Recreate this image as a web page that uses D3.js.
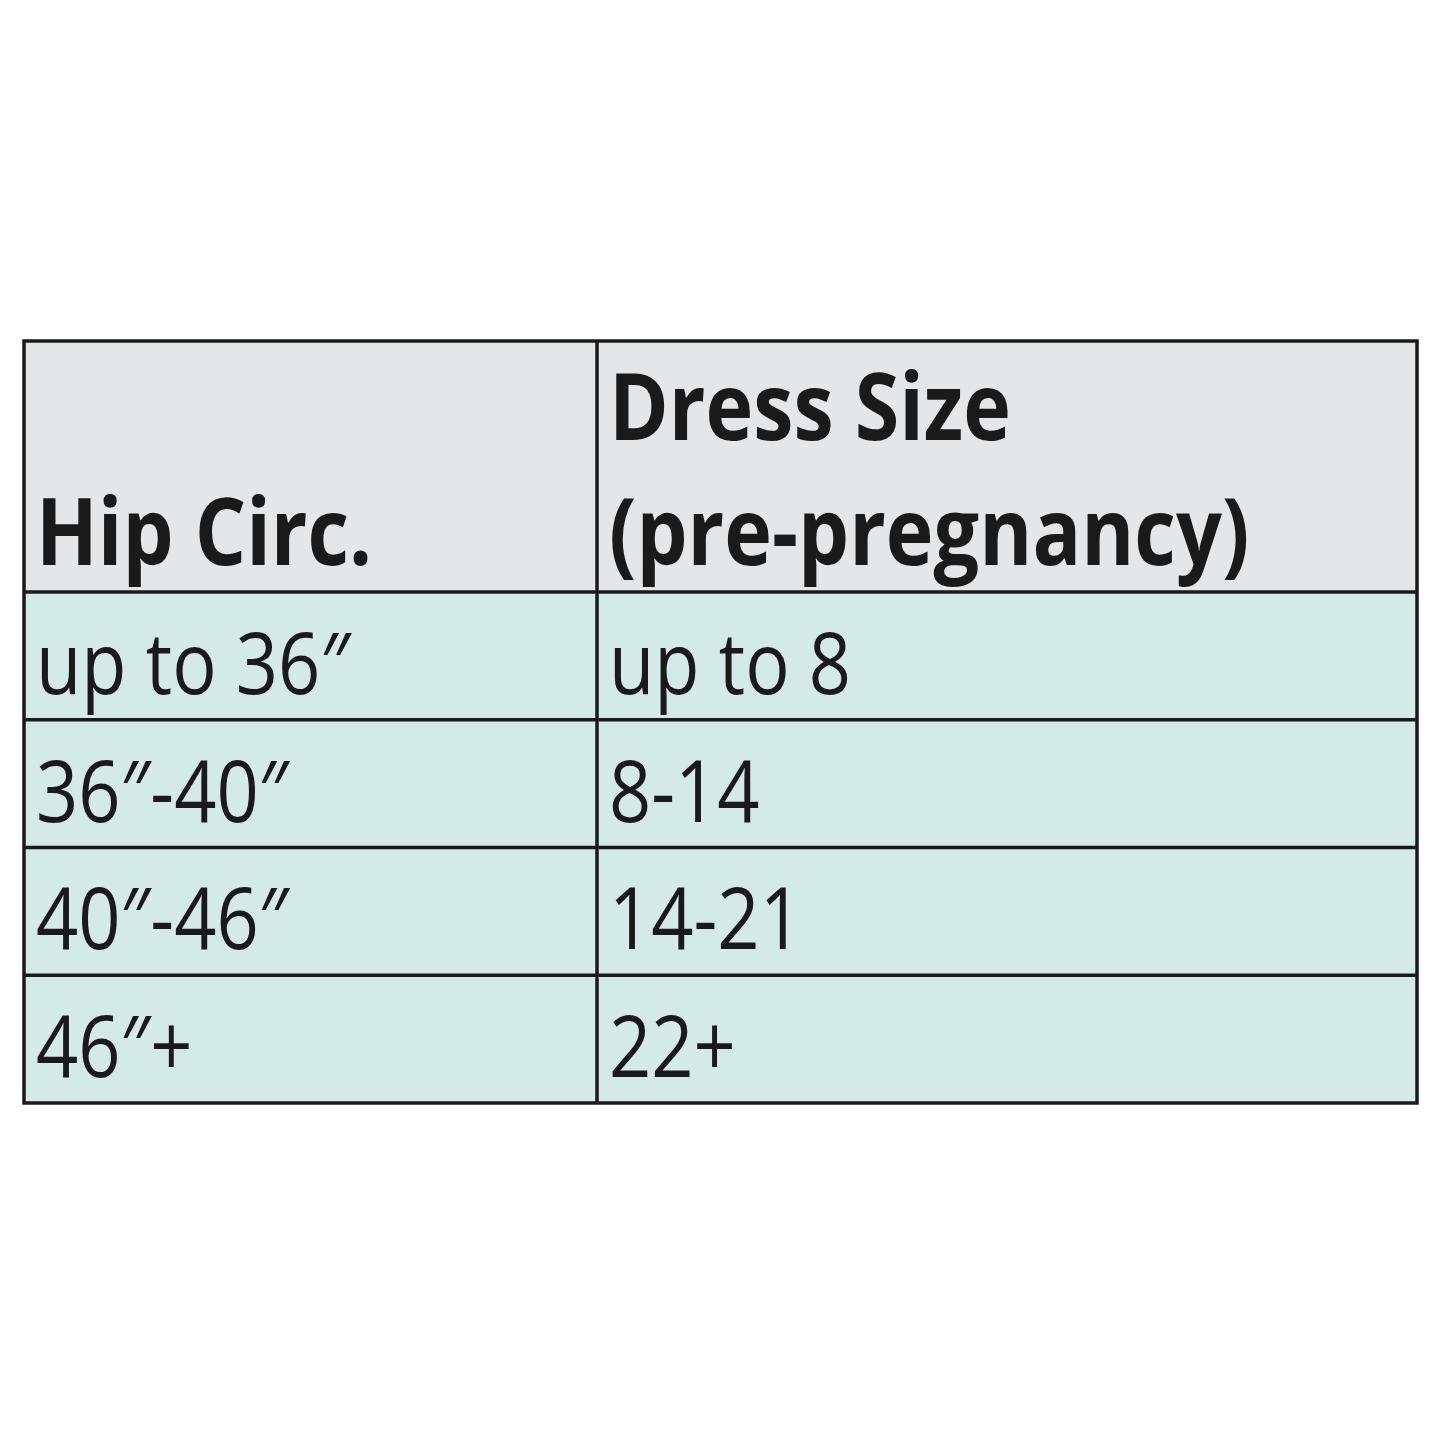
<!DOCTYPE html>
<html><head><meta charset="utf-8">
<script src="https://cdn.jsdelivr.net/npm/d3@7"></script>
<style>body{margin:0;background:#fff}</style></head>
<body><svg id="c" width="1445" height="1445"></svg>
<script>
const headers = [["Hip Circ."], ["Dress Size", "(pre-pregnancy)"]];
const hipCirc = ["up to 36\u2033", "36\u2033-40\u2033", "40\u2033-46\u2033", "46\u2033+"];
const dressSize = ["up to 8", "8-14", "14-21", "22+"];

const svg = d3.select("#c");
const tLeft = 24, tRight = 1417, tTop = 341, headerBottom = 592, tBottom = 1103, divX = 597;
const y = d3.scaleBand().domain(d3.range(hipCirc.length)).range([headerBottom, tBottom]);
const colX = [tLeft, divX];
const sx = 0.86;

svg.append("rect").attr("x", tLeft).attr("y", tTop).attr("width", tRight-tLeft).attr("height", headerBottom-tTop).attr("fill", "#e5e6e8");
svg.append("rect").attr("x", tLeft).attr("y", headerBottom).attr("width", tRight-tLeft).attr("height", tBottom-headerBottom).attr("fill", "#d3eae6");

const ff = "'Open Sans', sans-serif";
headers.forEach((lines, c) => {
  lines.forEach((t, i) => {
    const by = 565 - (lines.length-1-i)*125;
    svg.append("text").attr("transform", `translate(${colX[c]+12},${by}) scale(${sx},1)`)
      .attr("font-family", ff).attr("font-weight", 700).attr("font-size", 94).attr("fill", "#1a1a1a").text(t);
  });
});
[hipCirc, dressSize].forEach((col, c) => {
  col.forEach((t, i) => {
    svg.append("text").attr("transform", `translate(${colX[c]+12},${y(i)+y.bandwidth()-26}) scale(${sx},1)`)
      .attr("font-family", ff).attr("font-weight", 400).attr("font-size", 86).attr("fill", "#1a1a1a").text(t);
  });
});

const g = svg.append("g").attr("stroke", "#1a1a1a").attr("stroke-width", 3.5);
g.append("rect").attr("x", tLeft).attr("y", tTop).attr("width", tRight-tLeft).attr("height", tBottom-tTop).attr("fill", "none");
g.append("line").attr("x1", divX).attr("x2", divX).attr("y1", tTop).attr("y2", tBottom);
g.selectAll("line.h").data(d3.range(hipCirc.length)).join("line").attr("class","h")
  .attr("x1", tLeft).attr("x2", tRight).attr("y1", d => y(d)).attr("y2", d => y(d));
</script></body></html>
